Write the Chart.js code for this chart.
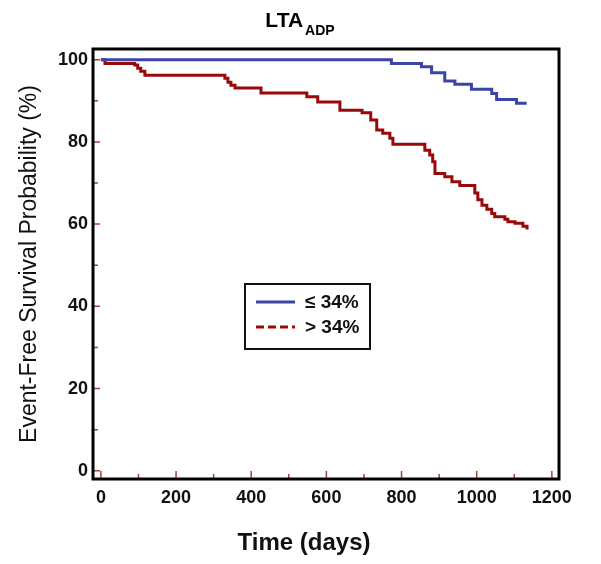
<!DOCTYPE html>
<html>
<head>
<meta charset="utf-8">
<script src="https://cdn.jsdelivr.net/npm/chart.js@4.4.1/dist/chart.umd.min.js"></script>
<style>
  html, body { margin: 0; padding: 0; background: #fff; }
</style>
</head>
<body>
<canvas id="myChart" width="601" height="564"></canvas>
<script>
const FONT = 'Arial, "Liberation Sans", sans-serif';
const BLUE = '#3b45a6';
const RED = '#980a0a';
const TICK_COLOR = '#a8403c';

// Kaplan-Meier steps: day of step, survival % after it
const lowDays = [0, 773, 853, 880, 915, 942, 986, 1040, 1053, 1106, 1133];
const lowSurv = [100, 99.1, 98.3, 96.8, 94.8, 94.0, 92.8, 91.8, 90.3, 89.4, 89.4];

const highDays = [0, 11, 90, 98, 106, 117, 330, 338, 346, 357, 426, 548, 577, 636, 695, 718, 734, 750, 769, 777,
                  862, 875, 883, 889, 915, 934, 955, 995, 1003, 1014, 1027, 1040, 1048, 1075, 1083, 1102, 1123, 1134];
const highSurv = [100, 99.1, 98.7, 97.9, 97.2, 96.2, 95.5, 94.5, 93.8, 93.1, 91.9, 91.0, 89.7, 87.7, 87.1, 85.3, 82.9, 82.1, 80.9, 79.4,
                  78.0, 76.8, 75.2, 72.3, 71.5, 70.3, 69.4, 67.6, 65.9, 64.6, 63.6, 62.6, 61.8, 61.2, 60.6, 60.2, 59.5, 58.7];

const seriesNames = ['≤ 34%', '> 34%'];

const xTicks = [0, 200, 400, 600, 800, 1000, 1200];
const xMinor = [100, 300, 500, 700, 900, 1100];
const yTicks = [0, 20, 40, 60, 80, 100];
const yMinor = [10, 30, 50, 70, 90];

// tick marks inside the plot, frame, titles, boxed legend
const framePlugin = {
  id: 'frame',
  beforeDatasetsDraw(chart) {
    const {ctx, chartArea: a, scales: {x, y}} = chart;
    ctx.save();
    ctx.strokeStyle = TICK_COLOR;
    ctx.lineWidth = 1.5;
    ctx.beginPath();
    xTicks.forEach(v => { const px = x.getPixelForValue(v); ctx.moveTo(px, a.bottom); ctx.lineTo(px, a.bottom - 8); });
    xMinor.forEach(v => { const px = x.getPixelForValue(v); ctx.moveTo(px, a.bottom); ctx.lineTo(px, a.bottom - 5); });
    yTicks.forEach(v => { const py = y.getPixelForValue(v); ctx.moveTo(a.left, py); ctx.lineTo(a.left + 7, py); });
    yMinor.forEach(v => { const py = y.getPixelForValue(v); ctx.moveTo(a.left, py); ctx.lineTo(a.left + 5, py); });
    ctx.stroke();
    ctx.restore();
  },
  afterDatasetsDraw(chart) {
    const {ctx, chartArea: a} = chart;
    ctx.save();
    ctx.strokeStyle = '#000';
    ctx.lineWidth = 3;
    ctx.strokeRect(a.left, a.top, a.right - a.left, a.bottom - a.top);

    // title LTA with subscript ADP
    ctx.fillStyle = '#000';
    ctx.textBaseline = 'alphabetic';
    ctx.textAlign = 'left';
    ctx.font = 'bold 21px ' + FONT;
    const mainW = ctx.measureText('LTA').width;
    ctx.font = 'bold 14px ' + FONT;
    const subW = ctx.measureText('ADP').width;
    const tx = 300 - (mainW + subW + 2) / 2;
    ctx.font = 'bold 21px ' + FONT;
    ctx.fillText('LTA', tx, 27);
    ctx.font = 'bold 14px ' + FONT;
    ctx.fillText('ADP', tx + mainW + 2, 35);

    // x axis title, centred on the figure rather than the plot
    ctx.fillStyle = '#111';
    ctx.textAlign = 'center';
    ctx.textBaseline = 'middle';
    ctx.font = 'bold 24px ' + FONT;
    ctx.fillText('Time (days)', 304, 543);

    // legend box
    ctx.textAlign = 'left';
    const lx = a.left + 152, ly = a.top + 235, lw = 125, lh = 65;
    ctx.fillStyle = '#fff';
    ctx.fillRect(lx, ly, lw, lh);
    ctx.lineWidth = 2;
    ctx.strokeStyle = '#111';
    ctx.strokeRect(lx, ly, lw, lh);
    const colors = [BLUE, RED];
    const dashes = [[], [8, 4]];
    seriesNames.forEach((name, i) => {
      const cy = ly + 18 + i * 25;
      ctx.beginPath();
      ctx.setLineDash(dashes[i]);
      ctx.strokeStyle = colors[i];
      ctx.lineWidth = 3;
      ctx.moveTo(lx + 11, cy);
      ctx.lineTo(lx + 50, cy);
      ctx.stroke();
      ctx.setLineDash([]);
      ctx.fillStyle = '#111';
      ctx.font = 'bold 19px ' + FONT;
      ctx.textBaseline = 'middle';
      ctx.fillText(name, lx + 60, cy + 1);
    });
    ctx.restore();
  }
};

const toPoints = (days, surv) => days.map((d, i) => ({x: d, y: surv[i]}));

const ctx = document.getElementById('myChart').getContext('2d');
const kmChart = new Chart(ctx, {
  type: 'line',
  data: {
    datasets: [{
      label: seriesNames[0],
      data: toPoints(lowDays, lowSurv),
      borderColor: BLUE,
      borderWidth: 3,
      stepped: 'before',
      pointRadius: 0,
      borderJoinStyle: 'miter',
      fill: false
    }, {
      label: seriesNames[1],
      data: toPoints(highDays, highSurv),
      borderColor: RED,
      borderWidth: 3,
      stepped: 'before',
      pointRadius: 0,
      borderJoinStyle: 'miter',
      fill: false
    }]
  },
  options: {
    responsive: false,
    animation: false,
    layout: { padding: { top: 49, right: 42, left: 0, bottom: 0 } },
    plugins: {
      legend: { display: false },
      tooltip: { enabled: false },
      title: { display: false }
    },
    scales: {
      x: {
        type: 'linear',
        min: -21,
        max: 1219,
        grid: { display: false, drawTicks: false },
        border: { display: false },
        afterBuildTicks: s => { s.ticks = xTicks.map(v => ({value: v})); },
        afterFit: s => { s.height = 85; },
        ticks: { font: { family: FONT, size: 18, weight: 'bold' }, color: '#111', padding: 8, maxRotation: 0, autoSkip: false,
                 callback: v => String(v) },
        title: { display: false }
      },
      y: {
        type: 'linear',
        min: -2,
        max: 102.6,
        grid: { display: false, drawTicks: false },
        border: { display: false },
        afterBuildTicks: s => { s.ticks = yTicks.map(v => ({value: v})); },
        afterFit: s => { s.width = 93; },
        ticks: { font: { family: FONT, size: 18, weight: 'bold' }, color: '#111', padding: 5, autoSkip: false },
        title: { display: true, text: 'Event-Free Survival Probability (%)', color: '#111',
                 font: { family: FONT, size: 23, lineHeight: 1.2 }, padding: { top: 16, bottom: 0 } }
      }
    }
  },
  plugins: [framePlugin]
});
</script>
</body>
</html>
